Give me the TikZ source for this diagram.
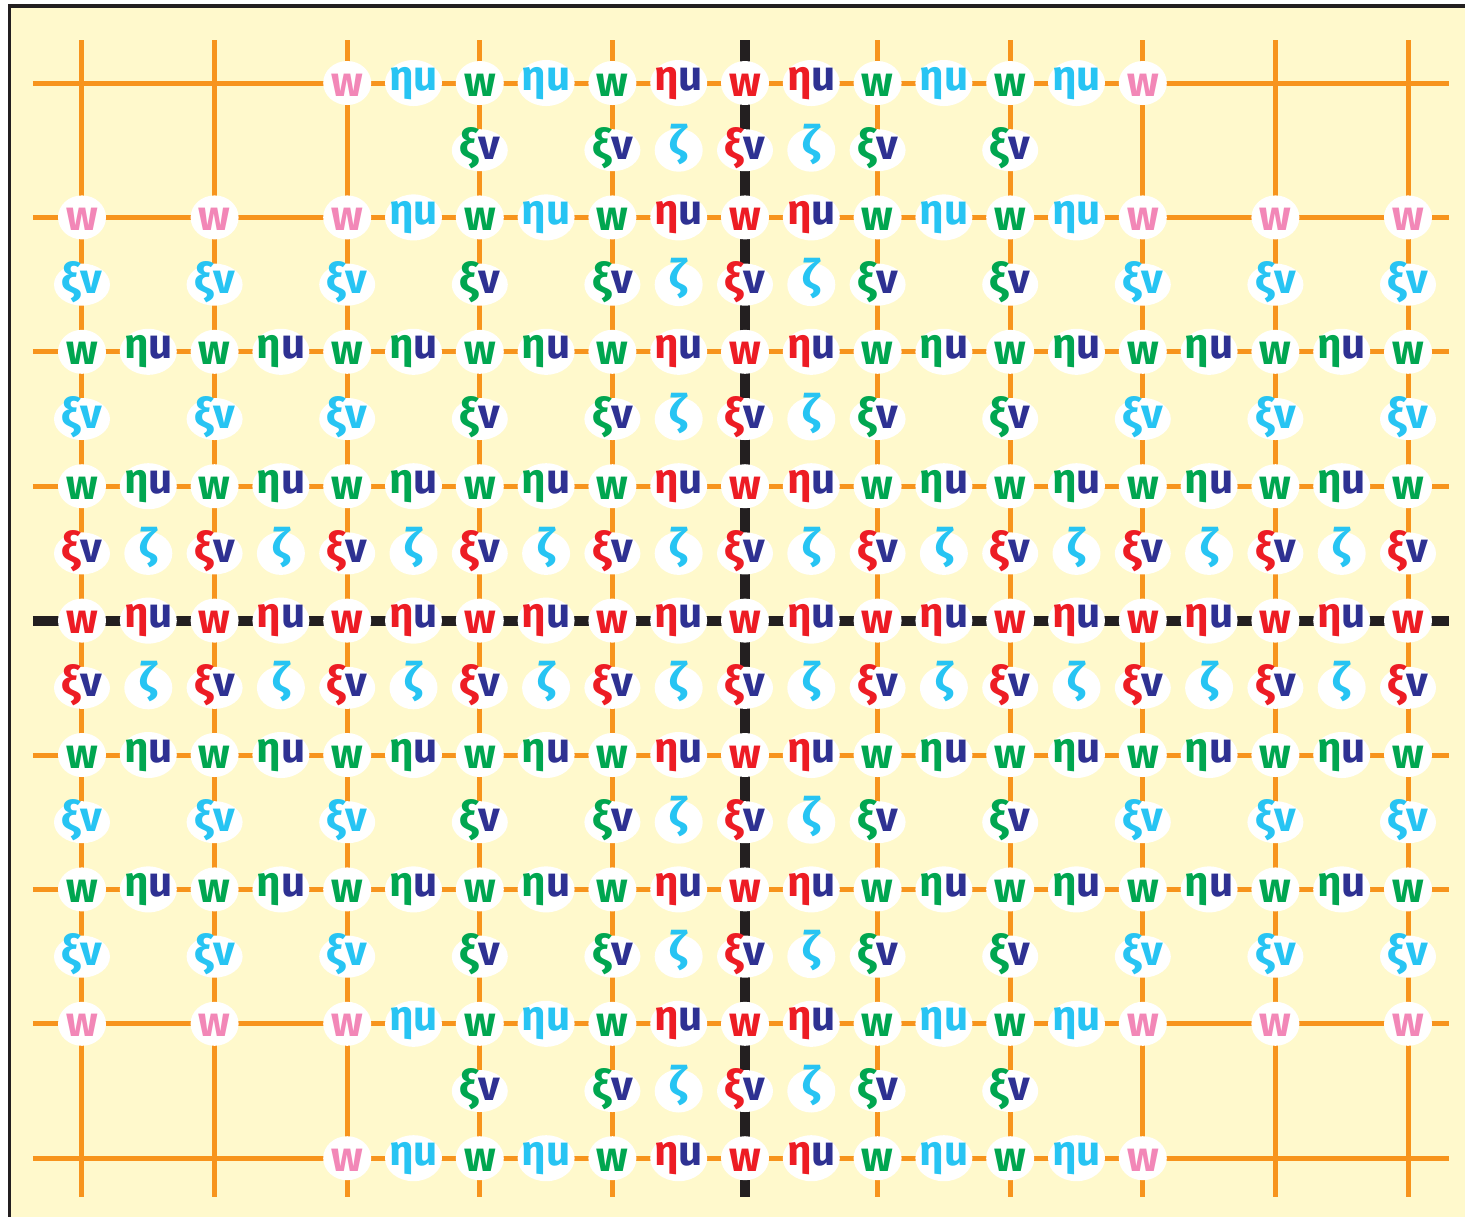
\documentclass[tikz,border=0pt]{standalone}
\usepackage{fontspec}
\setmainfont{Fira Sans}
\usetikzlibrary{shapes.geometric}

\definecolor{paper}{HTML}{FFF9CC}
\definecolor{gridorange}{HTML}{F7941D}
\definecolor{wpink}{HTML}{F287B7}
\definecolor{wgreen}{HTML}{00A650}
\definecolor{wred}{HTML}{ED1C24}
\definecolor{wnavy}{HTML}{2E3192}
\definecolor{wcyan}{HTML}{27C4F3}
\definecolor{axisblack}{HTML}{231F20}

% two coloured letters, centred, no width of their own
\newcommand{\pair}[4]{\makebox[0pt]{\textcolor{#1}{#2}\textcolor{#3}{#4}}}

\tikzset{
  site/.style={ellipse, fill=white, inner sep=0pt, text depth=0pt,
    font=\fontsize{12}{13}\selectfont\bfseries},
  wbox/.style={site, minimum width=4.8mm, minimum height=4.4mm, text height=2.6mm},
  eubox/.style={site, minimum width=5.7mm, minimum height=4.6mm, text height=1.4mm},
  xvbox/.style={site, minimum width=5.6mm, minimum height=4.2mm, text height=1.8mm},
  zbox/.style={site, minimum width=4.8mm, minimum height=4.3mm, text height=1.0mm},
  gridline/.style={gridorange, line width=0.5mm},
  axisline/.style={axisblack, line width=1mm},
}

\begin{document}
\begin{tikzpicture}[x=1.326cm, y=-1.344cm]
  \useasboundingbox (-0.6184,-0.6176) rectangle (10.430,8.4375);
  \clip (-0.6184,-0.6176) rectangle (10.430,8.4375);
  % paper
  \draw[axisblack, line width=0.35mm, fill=paper] (-0.5468,-0.5729) rectangle (11,9);

  % ends of the grid lines
  \foreach \c in {0,...,10} {
    \coordinate (top-\c) at (\c,-0.32);
    \coordinate (bot-\c) at (\c,8.29);
  }
  \foreach \r in {0,...,8} {
    \coordinate (lft-\r) at (-0.37,\r);
    \coordinate (rgt-\r) at (10.31,\r);
  }
  \foreach \r in {0,1,2,3,5,6,7,8} \draw[gridline] (lft-\r) -- (rgt-\r);
  \foreach \c in {0,1,2,3,4,6,7,8,9,10} \draw[gridline] (top-\c) -- (bot-\c);
  % the two axes
  \draw[axisline] (lft-4) -- (rgt-4);
  \draw[axisline] (top-5) -- (bot-5);

  % w sites
  \foreach \r in {0,8}
    \foreach \c/\k in {2/wpink,3/wgreen,4/wgreen,5/wred,6/wgreen,7/wgreen,8/wpink}
      \node[wbox, text=\k] (w-\c-\r) at (\c,\r) {\makebox[0pt]{w}};
  \foreach \r in {1,7}
    \foreach \c/\k in {0/wpink,1/wpink,2/wpink,3/wgreen,4/wgreen,5/wred,6/wgreen,7/wgreen,8/wpink,9/wpink,10/wpink}
      \node[wbox, text=\k] (w-\c-\r) at (\c,\r) {\makebox[0pt]{w}};
  \foreach \r in {2,3,5,6}
    \foreach \c/\k in {0/wgreen,1/wgreen,2/wgreen,3/wgreen,4/wgreen,5/wred,6/wgreen,7/wgreen,8/wgreen,9/wgreen,10/wgreen}
      \node[wbox, text=\k] (w-\c-\r) at (\c,\r) {\makebox[0pt]{w}};
  \foreach \c in {0,...,10}
    \node[wbox, text=wred] (w-\c-4) at (\c,4) {\makebox[0pt]{w}};

  % eta u on the rows
  \foreach \r in {0,1,7,8}
    \foreach \c/\ke/\ku in {2/wcyan/wcyan,3/wcyan/wcyan,4/wred/wnavy,5/wred/wnavy,6/wcyan/wcyan,7/wcyan/wcyan}
      \node[eubox] (eu-\c-\r) at (\c+0.5,\r) {\pair{\ke}{η}{\ku}{u}};
  \foreach \r in {2,3,5,6}
    \foreach \c/\ke in {0/wgreen,1/wgreen,2/wgreen,3/wgreen,4/wred,5/wred,6/wgreen,7/wgreen,8/wgreen,9/wgreen}
      \node[eubox] (eu-\c-\r) at (\c+0.5,\r) {\pair{\ke}{η}{wnavy}{u}};
  \foreach \c in {0,...,9}
    \node[eubox] (eu-\c-4) at (\c+0.5,4) {\pair{wred}{η}{wnavy}{u}};

  % xi v on the columns
  \foreach \r in {0,7}
    \foreach \c/\kx in {3/wgreen,4/wgreen,5/wred,6/wgreen,7/wgreen}
      \node[xvbox] (xv-\c-\r) at (\c,\r+0.5) {\pair{\kx}{ξ}{wnavy}{v}};
  \foreach \r in {1,2,5,6}
    \foreach \c/\kx/\kv in {0/wcyan/wcyan,1/wcyan/wcyan,2/wcyan/wcyan,3/wgreen/wnavy,4/wgreen/wnavy,5/wred/wnavy,6/wgreen/wnavy,7/wgreen/wnavy,8/wcyan/wcyan,9/wcyan/wcyan,10/wcyan/wcyan}
      \node[xvbox] (xv-\c-\r) at (\c,\r+0.5) {\pair{\kx}{ξ}{\kv}{v}};
  \foreach \r in {3,4}
    \foreach \c in {0,...,10}
      \node[xvbox] (xv-\c-\r) at (\c,\r+0.5) {\pair{wred}{ξ}{wnavy}{v}};

  % zeta in the cells
  \foreach \r in {0,1,2,5,6,7}
    \foreach \c in {4,5}
      \node[zbox, text=wcyan] (z-\c-\r) at (\c+0.5,\r+0.5) {\makebox[0pt]{ζ}};
  \foreach \r in {3,4}
    \foreach \c in {0,...,9}
      \node[zbox, text=wcyan] (z-\c-\r) at (\c+0.5,\r+0.5) {\makebox[0pt]{ζ}};
\end{tikzpicture}
\end{document}
